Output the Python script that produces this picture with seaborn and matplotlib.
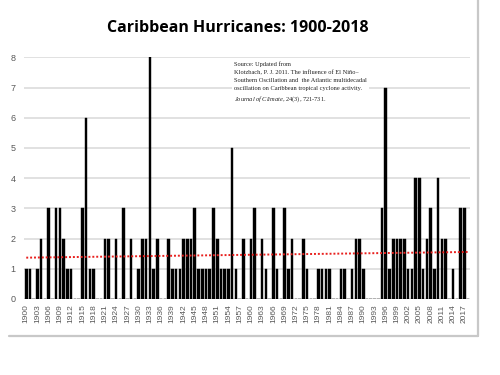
import numpy as np
import pandas as pd
import matplotlib
matplotlib.use("Agg")
import matplotlib.pyplot as plt
import seaborn as sns
from matplotlib.lines import Line2D

years = list(range(1900, 2019))
hurricanes = [
    1, 1, 0, 1, 2, 0, 3, 0, 3, 3,      # 1900-1909
    2, 1, 1, 0, 0, 3, 6, 1, 1, 0,      # 1910-1919
    0, 2, 2, 0, 2, 0, 3, 0, 2, 0,      # 1920-1929
    1, 2, 2, 8, 1, 2, 0, 0, 2, 1,      # 1930-1939
    1, 1, 2, 2, 2, 3, 1, 1, 1, 1,      # 1940-1949
    3, 2, 1, 1, 1, 5, 1, 0, 2, 0,      # 1950-1959
    2, 3, 0, 2, 1, 0, 3, 1, 0, 3,      # 1960-1969
    1, 2, 0, 0, 2, 1, 0, 0, 1, 1,      # 1970-1979
    1, 1, 0, 0, 1, 1, 0, 1, 2, 2,      # 1980-1989
    1, 0, 0, 0, 0, 3, 7, 1, 2, 2,      # 1990-1999
    2, 2, 1, 1, 4, 4, 1, 2, 3, 1,      # 2000-2009
    4, 2, 2, 0, 1, 0, 3, 3, 0,         # 2010-2018
]
tick_years = years[::3]
title = "Caribbean Hurricanes: 1900-2018"
source_lines = [
    "Source: Updated from",
    "Klotzbach, P. J. 2011. The influence of El Niño\u2013",
    "Southern Oscillation and  the Atlantic multidecadal",
    "oscillation on Caribbean tropical cyclone activity.",
]
source_last = r"$\it{Journal\ of\ Climate}$, $\it{24}$(3), 721-731."

df = pd.DataFrame({"year": years, "count": hurricanes})

sns.set_theme(style="white")
plt.rcParams["font.family"] = ["Liberation Sans", "DejaVu Sans"]
plt.rcParams["mathtext.fontset"] = "custom"
plt.rcParams["mathtext.rm"] = "Liberation Serif"
plt.rcParams["mathtext.it"] = "Liberation Serif:italic"

fig = plt.figure(figsize=(5, 3.75), dpi=100)
fig.patch.set_facecolor("white")
ax = fig.add_axes([0.048, 0.2027, 0.892, 0.6445])

sns.barplot(data=df, x="year", y="count", color="black", width=0.68,
            native_scale=True, ax=ax, zorder=3, edgecolor="black", linewidth=0.3)

# linear trendline
coef = np.polyfit(df["year"], df["count"], 1)
xs = np.array([years[0], years[-1]])
ax.plot(xs, np.polyval(coef, xs), color="#e8201e", linestyle=(0, (1, 1)),
        linewidth=1.4, zorder=4)

ax.set_xlim(years[0] - 0.6, years[-1] + 0.5)
ax.set_ylim(0, 8)
ax.set_yticks(range(0, 9))
ax.yaxis.grid(True, color="#d9d9d9", linewidth=1.1, zorder=0)
ax.set_axisbelow(True)
ax.set_xticks(tick_years)
ax.set_xticklabels([str(y) for y in tick_years], rotation=90,
                   fontsize=6, color="#595959")
ax.tick_params(axis="y", labelsize=6.5, labelcolor="#595959", length=0, pad=6)
ax.tick_params(axis="x", length=0, pad=4)
ax.set_xlabel("")
ax.set_ylabel("")
for s in ax.spines.values():
    s.set_visible(False)

fig.text(0.475, 0.925, title, ha="center", va="center", fontsize=11.5,
         fontweight="bold", family=["Open Sans", "DejaVu Sans"], color="black")

ax.text(0.47, 0.985, "\n".join(source_lines), transform=ax.transAxes,
        ha="left", va="top", fontsize=4.6, linespacing=1.75,
        family="Liberation Serif", color="#222222", zorder=5,
        bbox=dict(facecolor="white", edgecolor="none", pad=1.5))
ax.text(0.47, 0.846, source_last, transform=ax.transAxes,
        ha="left", va="top", fontsize=4.6, family="Liberation Serif",
        color="#222222", zorder=5,
        bbox=dict(facecolor="white", edgecolor="none", pad=1.5))

# chart frame
fig.add_artist(Line2D([9 / 500, 478 / 500], [1 - 336 / 375] * 2,
                      color="#c8c8c8", linewidth=1.6))
fig.add_artist(Line2D([478 / 500] * 2, [1 - 336 / 375, 1.0],
                      color="#c8c8c8", linewidth=1.6))

fig.savefig("out.png", dpi=100)
